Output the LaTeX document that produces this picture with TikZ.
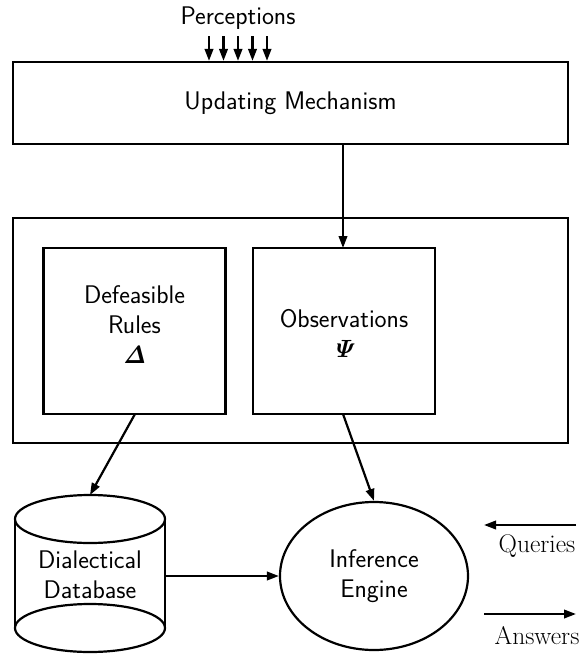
\documentclass[tikz,border=0pt]{standalone}
\usepackage{amsmath}
\usetikzlibrary{arrows.meta,shapes.geometric}
\begin{document}
\begin{tikzpicture}[x=1pt,y=-1pt,line width=2.2pt,
  arr/.style={-{Triangle[length=12pt,width=8.5pt]}},
  lbl/.style={font=\sffamily\fontsize{25.5}{30}\selectfont,align=center,inner sep=0pt},
  rlbl/.style={font=\rmfamily\fontsize{25.5}{30}\selectfont,inner sep=0pt},
  boxst/.style={draw,line width=2.2pt}]
\useasboundingbox (0,0) rectangle (580,654);
% Perceptions
\node[lbl] (perc) at (238,18) {Perceptions};
\node[boxst,minimum width=555pt,minimum height=82pt,inner sep=0pt] (upd) at (290.5,103) {};
\node[lbl] at (upd.center) {Updating Mechanism};
\foreach \i/\x in {1/209,2/223.5,3/238,4/252.5,5/267}{
  \coordinate (p\i) at (\x,36);
  \draw[arr] (p\i) -- (p\i |- upd.north);
}
% outer box
\node[boxst,minimum width=555pt,minimum height=225pt,inner sep=0pt] (outer) at (290.5,330.5) {};
\node[boxst,minimum width=182pt,minimum height=166pt,inner sep=0pt] (rules) at (134.5,331) {};
\node[boxst,minimum width=182pt,minimum height=166pt,inner sep=0pt] (obs) at (344,331) {};
\node[lbl] at (134.5,325) {Defeasible\\Rules\\$\boldsymbol{\mathit{\Delta}}$};
\node[lbl] at (344,333) {Observations\\$\boldsymbol{\mathit{\Psi}}$};
\draw[arr] (upd.south -| 343,0) -- (343,248);
% cylinder
\draw (15,519) -- (15,628);
\draw (165,519) -- (165,628);
\draw (90,519) ellipse [x radius=75pt, y radius=24pt];
\draw (90,628) ellipse [x radius=75pt, y radius=24pt];
\node[lbl] (db) at (90,575) {Dialectical\\Database};
\coordinate (dbtop) at (90,495);
\coordinate (dbright) at (165,576);
% inference engine
\node[draw,ellipse,minimum width=188pt,minimum height=148pt,inner sep=0pt] (ie) at (374,576) {};
\node[lbl] at (ie.center) {Inference\\Engine};
\coordinate (rulesout) at (135,414);
\coordinate (obsout) at (343,414);
\draw[arr] (rulesout) -- (dbtop);
\draw[arr] (obsout) -- (ie.north);
\draw[arr] (dbright) -- (ie.west);
% queries / answers
\coordinate (q1) at (576,525);
\coordinate (q2) at (484,525);
\draw[arr] (q1) -- (q2);
\node[rlbl] (qlbl) at (537,546) {Queries};
\coordinate (a1) at (484,614);
\coordinate (a2) at (576,614);
\draw[arr] (a1) -- (a2);
\node[rlbl] (albl) at (537,636) {Answers};
\end{tikzpicture}
\end{document}
